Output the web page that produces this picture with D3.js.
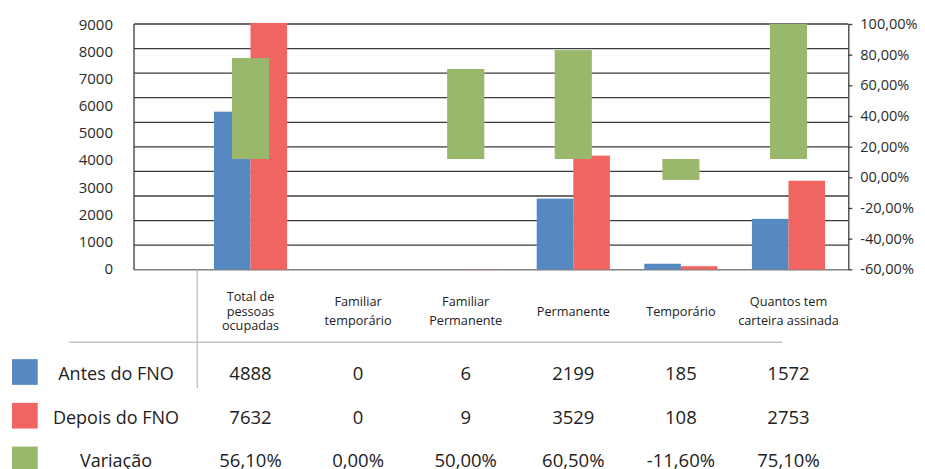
<!DOCTYPE html>
<html>
<head>
<meta charset="utf-8">
<script src="https://cdn.jsdelivr.net/npm/d3@7/dist/d3.min.js"></script>
<style>
  html, body { margin: 0; padding: 0; background: #ffffff; }
  svg { display: block; font-family: "Open Sans", "Noto Sans", sans-serif; }
</style>
</head>
<body>
<svg id="chart" width="925" height="469"></svg>
<script>
// Categories and their wrapped header lines
const categories = [
  "Total de pessoas ocupadas",
  "Familiar temporário",
  "Familiar Permanente",
  "Permanente",
  "Temporário",
  "Quantos tem carteira assinada"
];
const categoryLines = [
  ["Total de", "pessoas", "ocupadas"],
  ["Familiar", "temporário"],
  ["Familiar", "Permanente"],
  ["Permanente"],
  ["Temporário"],
  ["Quantos tem", "carteira assinada"]
];

// Series values
const seriesNames = ["Antes do FNO", "Depois do FNO", "Variação"];
const antes = [4888, 0, 6, 2199, 185, 1572];
const depois = [7632, 0, 9, 3529, 108, 2753];
const variacao = [0.561, 0.0, 0.50, 0.605, -0.116, 0.751];

// Axis tick labels
const leftTicks = [0, 1000, 2000, 3000, 4000, 5000, 6000, 7000, 8000, 9000];
const rightTicks = [-0.6, -0.4, -0.2, 0.0, 0.2, 0.4, 0.6, 0.8, 1.0];

const colors = ["#5688c1", "#f06462", "#99b86c"];

const svg = d3.select("#chart");

// Plot geometry
const plotLeft = 134, plotRight = 848.3, plotTop = 24, plotBottom = 269.7;

// Category bands (aligned with the data table columns)
const x = d3.scaleBand().domain(categories).range([196.7, 842.3]).padding(0);
const bw = x.bandwidth();
const xPair = d3.scaleBand().domain([0, 1]).range([bw * 0.16, bw * 0.84]).padding(0);

// Value scale for the count bars (and the plot gridlines)
const yBar = d3.scaleLinear().domain([0, 7600]).range([plotBottom, plotTop]);
// Value scale for the variation bars
const yVar = d3.scaleLinear().domain([-0.615, 0.75]).range([plotBottom, plotTop]);
// Displayed axes
const yLeft = d3.scaleLinear().domain([0, 9000]).range([268.3, 25]);
const yRight = d3.scaleLinear().domain([-0.6, 1.0]).range([269.3, 24]);

// Gridlines
svg.append("g")
  .selectAll("line")
  .data(d3.range(0, 7601, 760))
  .join("line")
  .attr("x1", plotLeft).attr("x2", plotRight)
  .attr("y1", d => yBar(d)).attr("y2", d => yBar(d))
  .attr("stroke", d => d === 0 ? "#808080" : "#3c3c3c")
  .attr("stroke-width", d => d === 0 ? 1.6 : 1.3);

// Clip region for bars
svg.append("defs").append("clipPath").attr("id", "plotClip")
  .append("rect")
  .attr("x", plotLeft).attr("y", 22)
  .attr("width", plotRight - plotLeft).attr("height", plotBottom - 22);

const bars = svg.append("g").attr("clip-path", "url(#plotClip)");

[antes, depois].forEach((vals, si) => {
  bars.append("g")
    .selectAll("rect")
    .data(vals)
    .join("rect")
    .attr("x", (d, i) => x(categories[i]) + xPair(si))
    .attr("width", xPair.bandwidth())
    .attr("y", d => yBar(d))
    .attr("height", d => yBar(0) - yBar(d))
    .attr("fill", colors[si]);
});

const greenW = bw * 0.345;
bars.append("g")
  .selectAll("rect")
  .data(variacao)
  .join("rect")
  .attr("x", (d, i) => x(categories[i]) + (bw - greenW) / 2)
  .attr("width", greenW)
  .attr("y", d => Math.min(yVar(d), yVar(0)))
  .attr("height", d => Math.abs(yVar(d) - yVar(0)))
  .attr("fill", colors[2]);

// Left border of the plot area
svg.append("line")
  .attr("x1", plotLeft).attr("x2", plotLeft)
  .attr("y1", plotTop).attr("y2", plotBottom)
  .attr("stroke", "#3c3c3c").attr("stroke-width", 1.3);

// Left axis (labels only)
const leftAxis = svg.append("g")
  .attr("transform", `translate(${plotLeft},0)`)
  .call(d3.axisLeft(yLeft).tickValues(leftTicks).tickSize(0).tickPadding(21).tickFormat(d3.format("d")));
leftAxis.select(".domain").remove();
leftAxis.selectAll("text")
  .attr("font-size", 15).attr("fill", "#2b2b2b")
  .attr("font-family", "'Open Sans', sans-serif");

// Right axis
const pctAxis = v => {
  const s = Math.abs(v * 100).toFixed(2).split(".");
  return (v < 0 ? "-" : "") + s[0].padStart(2, "0") + "," + s[1] + "%";
};
const rightAxis = svg.append("g")
  .attr("transform", `translate(${plotRight},0)`)
  .call(d3.axisRight(yRight).tickValues(rightTicks).tickSize(4).tickSizeOuter(0).tickPadding(8).tickFormat(pctAxis));
rightAxis.select(".domain").attr("stroke", "#3c3c3c").attr("stroke-width", 1.3);
rightAxis.selectAll(".tick line").attr("stroke", "#3c3c3c").attr("stroke-width", 1.3);
rightAxis.selectAll("text")
  .attr("font-size", 14.5).attr("fill", "#2b2b2b")
  .attr("font-family", "'Open Sans', sans-serif");

// Data table lines
const tableLine = "#c4c4c4";
svg.append("line")
  .attr("x1", 197.3).attr("x2", 197.3).attr("y1", plotBottom).attr("y2", 388)
  .attr("stroke", tableLine).attr("stroke-width", 1.5);
svg.append("line")
  .attr("x1", 69).attr("x2", 782).attr("y1", 342.3).attr("y2", 342.3)
  .attr("stroke", tableLine).attr("stroke-width", 1.5);

// Category headers
const header = svg.append("g");
categories.forEach((c, i) => {
  const lines = categoryLines[i];
  const n = lines.length;
  const lh = n === 3 ? 14.5 : 19.5;
  const first = 315.5 - (n - 1) * lh / 2;
  const t = header.append("text")
    .attr("text-anchor", "middle")
    .attr("font-size", 12.7)
    .attr("fill", "#222");
  lines.forEach((ln, k) => {
    t.append("tspan")
      .attr("x", x(c) + bw / 2)
      .attr("y", first + k * lh)
      .text(ln);
  });
});

// Table rows: legend key, series name and values
const rowBaselines = [380, 423.7, 467.4];
const fmtCount = d3.format("d");
const fmtVar = v => (v < 0 ? "-" : "") + Math.abs(v * 100).toFixed(2).replace(".", ",") + "%";
const rows = [antes, depois, variacao];

rows.forEach((vals, r) => {
  const cy = rowBaselines[r] - 8;
  svg.append("rect")
    .attr("x", 12).attr("y", cy - 12.85)
    .attr("width", 25.7).attr("height", 25.7)
    .attr("fill", colors[r]);
  svg.append("text")
    .attr("x", 116).attr("y", rowBaselines[r])
    .attr("text-anchor", "middle")
    .attr("font-size", 18).attr("fill", "#222")
    .text(seriesNames[r]);
  svg.append("g")
    .selectAll("text")
    .data(vals)
    .join("text")
    .attr("x", (d, i) => x(categories[i]) + bw / 2)
    .attr("y", rowBaselines[r])
    .attr("text-anchor", "middle")
    .attr("font-size", 18.5).attr("fill", "#222")
    .text(d => r === 2 ? fmtVar(d) : fmtCount(d));
});
</script>
</body>
</html>
